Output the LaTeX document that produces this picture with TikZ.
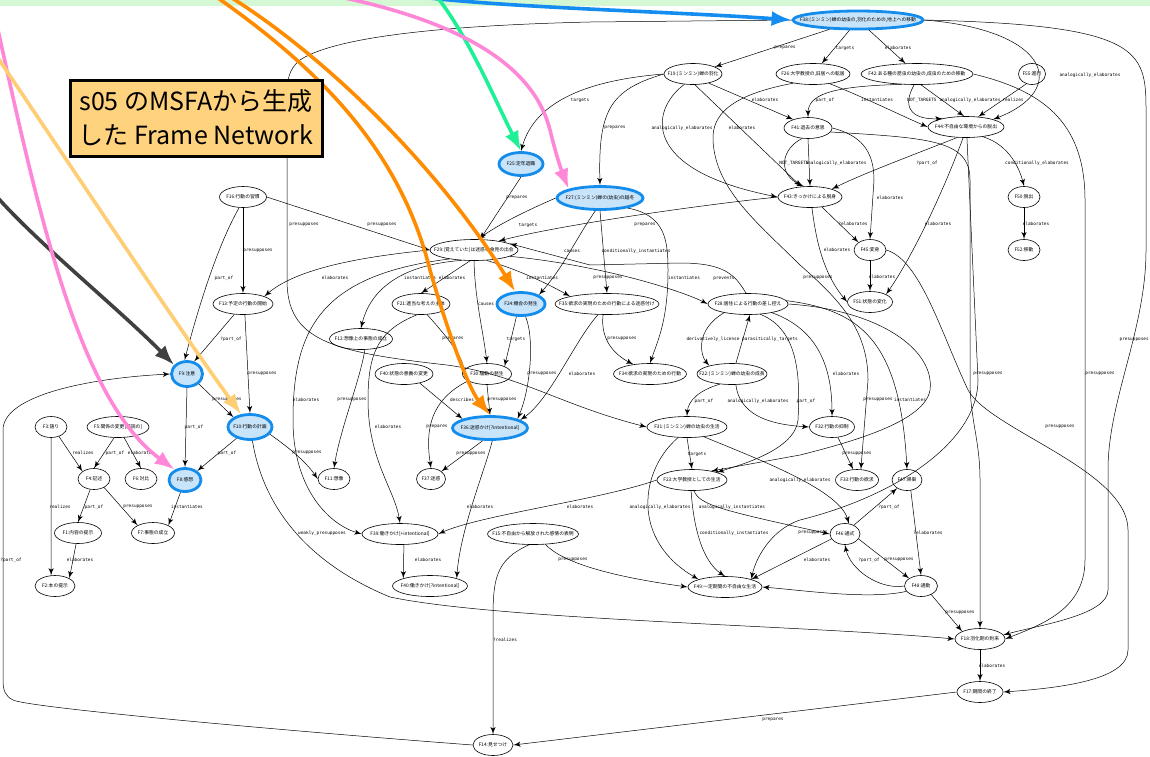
\documentclass[tikz,border=0pt]{standalone}
\usepackage{fontspec}
\setmainfont{Noto Sans CJK JP}
\setmonofont{DejaVu Sans Mono}
\usetikzlibrary{arrows,arrows.meta,shapes.geometric}

\definecolor{hlfill}{RGB}{200,228,250}
\definecolor{hlline}{RGB}{20,140,235}
\definecolor{pblue}{RGB}{20,140,240}
\definecolor{pgreen}{RGB}{30,240,150}
\definecolor{ppink}{RGB}{255,135,215}
\definecolor{porange}{RGB}{255,140,0}
\definecolor{pdark}{RGB}{64,64,64}
\definecolor{pyellow}{RGB}{255,205,115}
\definecolor{band}{RGB}{212,248,212}
\definecolor{ttlfill}{RGB}{255,210,125}

\newcommand\flab[1]{\makebox[0pt]{#1}}

\begin{document}
\begin{tikzpicture}[x=0.5pt,y=-0.5pt,>=latex']
        \tikzset{fnode/.style={draw, ellipse, inner sep=0pt, minimum height=10.5pt, line width=0.3pt, font=\fontsize{2.4}{2.8}\selectfont},
        hl/.style={fnode, fill=hlfill, draw=hlline, line width=1.4pt, minimum height=11.5pt},
        wd/.style={minimum width={#1*0.5pt}},
        rel/.style={draw, ->, line width=0.25pt},
        elbl/.style={font=\fontsize{2.2}{2.6}\ttfamily, inner sep=0pt},
        pointer/.style={line width=1.8pt, -{Latex[length=10pt,width=7.5pt]}},
        ttl/.style={draw, fill=ttlfill, line width=1.5pt, align=center, minimum width=126pt, minimum height=38pt, font=\fontsize{12.5}{17}\selectfont}
        }
        \useasboundingbox (0,0) rectangle (1150,756);
        \fill[band] (0,0) rectangle (1150,6);

        % frames
        \node[hl, wd=130, minimum height=9pt] (f38) at (858,20) {\flab{F38:(ミンミン)蝉の幼虫の,羽化のための,地上への移動}};
        \node[fnode, wd=58] (f19) at (693,74) {\flab{F19:(ミンミン)蝉の羽化}};
        \node[fnode, wd=74] (f26) at (813,74) {\flab{F26:大学教授の,旧居への転居}};
        \node[fnode, wd=112] (f42) at (917,74) {\flab{F42:ある種の昆虫の幼虫の,成虫のための移動}};
        \node[fnode, wd=27] (f55) at (1032,74) {\flab{F55:進行}};
        \node[fnode, wd=48] (f41) at (808,128) {\flab{F41:退去の意思}};
        \node[fnode, wd=76] (f44) at (966,127) {\flab{F44:不自由な環境からの脱出}};
        \node[hl, wd=44] (f25) at (521,164) {\flab{F25:定年退職}};
        \node[hl, wd=86] (f27) at (600,198) {\flab{F27:(ミンミン)蝉の(幼虫)の越冬}};
        \node[fnode, wd=64] (f43) at (810,197) {\flab{F43:きっかけによる脱身}};
        \node[fnode, wd=32] (f50) at (1024,197) {\flab{F50:脱出}};
        \node[fnode, wd=47] (f16) at (243,197) {\flab{F16:行動の習慣}};
        \node[fnode, wd=88] (f29) at (474,250) {\flab{F29:(覚えていた)は迷惑な食見の出会}};
        \node[fnode, wd=32] (f45) at (870,250) {\flab{F45:変身}};
        \node[fnode, wd=32] (f52) at (1024,250) {\flab{F52:移動}};
        \node[fnode, wd=60] (f13) at (243,304) {\flab{F13:予定の行動の開始}};
        \node[fnode, wd=58] (f21) at (421,304) {\flab{F21:適当な考えの主体}};
        \node[hl, wd=48] (f24) at (521,304) {\flab{F24:機会の発生}};
        \node[fnode, wd=104] (f35) at (607,304) {\flab{F35:欲求の実現のための行動による迷惑付け}};
        \node[fnode, wd=80] (f28) at (748,304) {\flab{F28:居住による行動の差し控え}};
        \node[fnode, wd=45] (f51) at (870,302) {\flab{F51:状態の変化}};
        \node[fnode, wd=63] (f12) at (361,339) {\flab{F12:想像上の事態の成立}};
        \node[hl, wd=31, minimum height=12.5pt] (f9) at (187,374) {\flab{F9:注意}};
        \node[fnode, wd=58] (f40) at (404,374) {\flab{F40:状態の意義の変更}};
        \node[fnode, wd=49] (f30) at (487,374) {\flab{F30:騒動の発生}};
        \node[fnode, wd=73] (f34) at (650,374) {\flab{F34:欲求の実現のための行動}};
        \node[fnode, wd=70] (f22) at (732,374) {\flab{F22:(ミンミン)蝉の幼虫の成長}};
        \node[fnode, wd=32] (f3) at (51,427) {\flab{F3:語り}};
        \node[fnode, wd=62] (f5) at (118,427) {\flab{F5:関係の変更[逆説の]}};
        \node[hl, wd=44, minimum height=12.5pt] (f10) at (250,427) {\flab{F10:行動の計画}};
        \node[hl, wd=75] (f36) at (490,428) {\flab{F36:迷惑かけ[?intentional]}};
        \node[fnode, wd=80] (f31) at (687,427) {\flab{F31:(ミンミン)蝉の幼虫の生活}};
        \node[fnode, wd=45] (f32) at (832,427) {\flab{F32:行動の抑制}};
        \node[fnode, wd=32] (f4) at (94,479) {\flab{F4:記述}};
        \node[fnode, wd=32] (f6) at (141,479) {\flab{F6:対比}};
        \node[hl, wd=32] (f8) at (185,480) {\flab{F8:感想}};
        \node[fnode, wd=32] (f11) at (334,479) {\flab{F11:想像}};
        \node[fnode, wd=29] (f37) at (431,479) {\flab{F37:迷惑}};
        \node[fnode, wd=70] (f27b) at (692,480) {\flab{F23:大学教授としての生活}};
        \node[fnode, wd=43] (f33) at (857,480) {\flab{F33:行動の欲求}};
        \node[fnode, wd=30] (f47) at (907,480) {\flab{F47:帰巣}};
        \node[fnode, wd=47] (f1) at (78,533) {\flab{F1:内容の提示}};
        \node[fnode, wd=43] (f7) at (153,533) {\flab{F7:事態の成立}};
        \node[fnode, wd=76] (f39a) at (400,534) {\flab{F39:働きかけ[+intentional]}};
        \node[fnode, wd=91] (f15) at (533,534) {\flab{F15:不自由から解放された感情の表明}};
        \node[fnode, wd=30] (f46) at (845,534) {\flab{F46:通式}};
        \node[fnode, wd=40] (f2) at (55,586) {\flab{F2:本の提示}};
        \node[fnode, wd=75] (f39) at (430,586) {\flab{F40:働きかけ[?intentional]}};
        \node[fnode, wd=74] (f49) at (725,587) {\flab{F49:一定期間の不自由な生活}};
        \node[fnode, wd=33] (f48) at (921,586) {\flab{F48:通勤}};
        \node[fnode, wd=50] (f18) at (980,639) {\flab{F18:羽化期の到来}};
        \node[fnode, wd=46] (f17) at (980,692) {\flab{F17:期間の終了}};
        \node[fnode, wd=40] (f14) at (493,745) {\flab{F14:見せつけ}};

        % relations
        \draw[rel] (f38) -- (f19) node[elbl, at={(785,48)}] {prepares};
        \draw[rel] (f38) -- (f26) node[elbl, at={(845,48)}] {targets};
        \draw[rel] (f38) -- (f42) node[elbl, at={(898,48)}] {elaborates};
        \draw[rel] (f38.east) .. controls (1050,30) and (1070,90) .. (f44.north east) node[elbl, at={(1090,75)}] {analogically\_elaborates};
        \draw[rel] (f38.east) .. controls (1140,25) and (1146,50) .. (1146,110) -- (1146,250) .. controls (1146,330) and (1108,400) .. (1108,470) -- (1108,590) .. controls (1108,615) and (1040,625) .. (f18.10) node[elbl, anchor=east, at={(1149,340)}] {presupposes};
        \draw[rel] (f38.west) -- (590,22) .. controls (420,26) and (330,40) .. (300,60) .. controls (288,70) and (287,80) .. (287,100) -- (287,280) .. controls (287,340) and (330,352) .. (447,365) .. controls (520,375) and (560,405) .. (f31.west) node[elbl, at={(304,225)}] {presupposes};
        \draw[rel] (f19.west) .. controls (590,80) and (535,100) .. (f25.north) node[elbl, at={(580,100)}] {targets};
        \draw[rel] (f19.west) .. controls (610,90) and (598,110) .. (f27.north) node[elbl, at={(615,128)}] {prepares};
        \draw[rel] (f19.230) .. controls (650,110) and (640,170) .. (f43.west) node[elbl, at={(682,128)}] {analogically\_elaborates};
        \draw[rel] (f19.-80) -- (f43.130) node[elbl, at={(742,128)}] {elaborates};
        \draw[rel] (f19.-30) -- (f41.150) node[elbl, at={(765,100)}] {elaborates};
        \draw[rel] (f42.215) .. controls (830,86) and (808,95) .. (f41.north) node[elbl, at={(825,100)}] {part\_of};
        \draw[rel] (f26.-30) .. controls (870,100) and (900,115) .. (f44.west) node[elbl, at={(877,100)}] {instantiates};
        \draw[rel] (f42.255) .. controls (900,110) and (915,120) .. (f44.160) node[elbl, at={(922,100)}] {NOT\_TARGETS};
        \draw[rel] (f42.290) -- (f44.100) node[elbl, at={(970,100)}] {analogically\_elaborates};
        \draw[rel] (f55.240) -- (f44.40) node[elbl, at={(1013,100)}] {realizes};
        \draw[rel] (f42.east) .. controls (1040,90) and (1085,120) .. (1085,200) -- (1085,560) .. controls (1085,610) and (1040,625) .. (f18.east) node[elbl, at={(1100,374)}] {presupposes};
        \draw[rel] (f41.240) .. controls (780,150) and (778,175) .. (f43.120) node[elbl, at={(794,163)}] {NOT\_TARGETS};
        \draw[rel] (f41.-90) -- (f43.90) node[elbl, at={(836,163)}] {analogically\_elaborates};
        \draw[rel] (f44.230) .. controls (900,160) and (860,175) .. (f43.20) node[elbl, at={(927,163)}] {?part\_of};
        \draw[rel] (f44.-30) .. controls (1010,145) and (1020,170) .. (f50.north) node[elbl, at={(1037,163)}] {conditionally\_elaborates};
        \draw[rel] (f50) -- (f52) node[elbl, at={(1036,224)}] {elaborates};
        \draw[rel] (f44.255) .. controls (940,200) and (910,260) .. (f51.north east) node[elbl, at={(938,224)}] {elaborates};
        \draw[rel] (f43.-40) -- (f45.north west) node[elbl, at={(853,224)}] {?elaborates};
        \draw[rel] (f43.-80) .. controls (815,230) and (820,270) .. (f51.west) node[elbl, at={(837,250)}] {elaborates};
        \draw[rel] (f41.east) .. controls (860,135) and (874,150) .. (874,180) -- (f45.north) node[elbl, at={(890,198)}] {elaborates};
        \draw[rel] (f45) -- (f51) node[elbl, at={(882,277)}] {elaborates};
        \draw[rel] (f41.-10) .. controls (930,138) and (970,140) .. (970,180) -- (970,380) .. controls (970,420) and (980,440) .. (980,480) -- (f18.north) node[elbl, at={(988,374)}] {presupposes};
        \draw[rel] (f44.-85) -- (978,380) .. controls (978,440) and (900,495) .. (800,520) .. controls (770,530) and (755,560) .. (f49.north east) node[elbl, at={(813,533)}] {presupposes};
        \draw[rel] (f45.east) .. controls (920,260) and (940,330) .. (968,390) .. controls (990,430) and (1128,470) .. (1128,530) -- (1128,650) .. controls (1128,680) and (1060,688) .. (f17.east) node[elbl, at={(1060,427)}] {presupposes};

        \draw[rel] (f25.south) -- (f29.60) node[elbl, at={(517,198)}] {prepares};
        \draw[rel] (f27.west) .. controls (540,205) and (505,220) .. (f29.70) node[elbl, at={(528,225)}] {targets};
        \draw[rel] (f43.west) .. controls (700,205) and (560,225) .. (f29.20) node[elbl, at={(645,225)}] {prepares};
        \draw[rel] (f16.east) -- (f29.west) node[elbl, at={(382,225)}] {presupposes};
        \draw[rel] (f16.south) -- (f13.north) node[elbl, at={(258,251)}] {presupposes};
        \draw[rel] (f16.250) .. controls (215,250) and (195,320) .. (f9.100) node[elbl, at={(224,278)}] {part\_of};
        \draw[rel] (f13.230) -- (f9.60) node[elbl, at={(231,339)}] {?part\_of};
        \draw[rel] (f13.-80) -- (f10.north) node[elbl, at={(262,374)}] {presupposes};
        \draw[rel] (f29.west) .. controls (380,255) and (300,265) .. (f13.north east) node[elbl, at={(335,278)}] {elaborates};
        \draw[rel] (f29.220) .. controls (400,265) and (370,290) .. (f12.north) node[elbl, at={(420,278)}] {instantiates};
        \draw[rel] (f29.250) -- (f21.north) node[elbl, at={(452,278)}] {elaborates};
        \draw[rel] (f29.-90) .. controls (475,300) and (483,330) .. (f30.north) node[elbl, at={(486,304)}] {causes};
        \draw[rel] (f29.-40) .. controls (520,270) and (550,285) .. (f35.north west) node[elbl, at={(542,278)}] {instantiates};
        \draw[rel] (f27.250) .. controls (575,240) and (565,265) .. (f24.north east) node[elbl, at={(572,251)}] {causes};
        \draw[rel] (f27.-90) -- (f35.north) node[elbl, at={(636,251)}] {conditionally\_instantiates};
        \draw[rel] (f27.-20) .. controls (665,215) and (668,240) .. (668,270) .. controls (668,320) and (658,340) .. (f34.north) node[elbl, at={(684,278)}] {instantiates};
        \draw[rel] (f29.-10) .. controls (600,265) and (680,290) .. (f28.west) node[elbl, at={(608,278)}] {presupposes};
        \draw[rel] (f28.100) .. controls (735,275) and (725,263) .. (680,263) -- (590,265) -- (f29.10) node[elbl, at={(724,278)}] {prevents};
        \draw[rel] (f26.205) .. controls (730,95) and (712,115) .. (713,140) .. controls (715,190) and (760,225) .. (800,265) .. controls (840,300) and (868,330) .. (868,380) -- (f33.70) node[elbl, at={(818,278)}] {presupposes};
        \draw[rel] (f24.250) -- (f30.north east) node[elbl, at={(516,339)}] {targets};
        \draw[rel] (f21.-60) .. controls (450,340) and (465,360) .. (f30.west) node[elbl, at={(453,339)}] {prepares};
        \draw[rel] (f24.-70) .. controls (535,340) and (530,390) .. (f36.north east) node[elbl, at={(542,374)}] {presupposes};
        \draw[rel] (f35.230) .. controls (575,340) and (550,400) .. (f36.15) node[elbl, at={(582,374)}] {elaborates};
        \draw[rel] (f35.250) .. controls (600,340) and (615,355) .. (f34.150) node[elbl, at={(622,339)}] {presupposes};
        \draw[rel] (f28.200) .. controls (695,330) and (700,355) .. (f22.160) node[elbl, at={(713,339)}] {derivatively\_license};
        \draw[rel] (f22.70) -- (f28.-80) node[elbl, at={(770,339)}] {parasitically\_targets};
        \draw[rel] (f12.-70) .. controls (360,380) and (340,430) .. (f11.north) node[elbl, at={(352,400)}] {presupposes};
        \draw[rel] (f40.-30) -- (f36.north west) node[elbl, at={(462,400)}] {describes};
        \draw[rel] (f30.south) -- (f36.north) node[elbl, at={(502,400)}] {presupposes};
        \draw[rel] (f30.200) .. controls (430,400) and (425,430) .. (f37.north) node[elbl, at={(437,427)}] {prepares};
        \draw[rel] (f36.240) -- (f37.north east) node[elbl, at={(471,454)}] {presupposes};
        \draw[rel] (f21.250) .. controls (380,330) and (368,350) .. (368,400) .. controls (368,460) and (395,490) .. (f39a.north) node[elbl, at={(388,427)}] {elaborates};
        \draw[rel] (f29.200) .. controls (320,275) and (293,330) .. (293,420) .. controls (293,490) and (330,525) .. (f39a.west) node[elbl, at={(306,400)}] {elaborates};
        \draw[rel] (f22.220) .. controls (700,390) and (688,400) .. (f31.north) node[elbl, at={(704,401)}] {part\_of};
        \draw[rel] (f22.-70) .. controls (740,420) and (780,425) .. (f32.west) node[elbl, at={(758,401)}] {analogically\_elaborates};
        \draw[rel] (f28.-40) .. controls (800,330) and (800,380) .. (798,420) .. controls (795,450) and (740,465) .. (f27b.north east) node[elbl, at={(806,401)}] {part\_of};
        \draw[rel] (f28.-20) .. controls (820,330) and (832,370) .. (f32.north) node[elbl, at={(846,374)}] {elaborates};
        \draw[rel] (f28.east) .. controls (880,310) and (935,350) .. (930,390) .. controls (925,420) and (860,440) .. (800,455) -- (f27b.25) node[elbl, at={(878,400)}] {presupposes};
        \draw[rel] (f28.5) .. controls (860,310) and (900,340) .. (f47.north) node[elbl, at={(910,400)}] {instantiates};
        \draw[rel] (f32.-60) -- (f33.110) node[elbl, at={(857,454)}] {presupposes};
        \draw[rel] (f31.-90) -- (f27b.north) node[elbl, at={(697,454)}] {targets};
        \draw[rel] (f31.-30) .. controls (760,460) and (840,490) .. (f46.70) node[elbl, at={(800,480)}] {analogically\_elaborates};
        \draw[rel] (f31.230) .. controls (640,470) and (630,540) .. (f49.north west) node[elbl, at={(660,507)}] {analogically\_elaborates};
        \draw[rel] (f27b.-80) .. controls (700,505) and (720,510) .. (f46.west) node[elbl, at={(732,507)}] {analogically\_instantiates};
        \draw[rel] (f27b.-95) .. controls (693,520) and (700,560) .. (f49.north) node[elbl, at={(734,533)}] {conditionally\_instantiates};
        \draw[rel] (f27b.west) .. controls (600,500) and (480,515) .. (f39a.east) node[elbl, at={(580,507)}] {elaborates};
        \draw[rel] (f46.200) -- (f49.north east) node[elbl, at={(817,560)}] {elaborates};
        \draw[rel] (f48.west) .. controls (880,590) and (850,570) .. (f46.south) node[elbl, at={(869,560)}] {?part\_of};
        \draw[rel] (f46.-20) -- (f48.north west) node[elbl, at={(899,560)}] {presupposes};
        \draw[rel] (f47.-70) -- (f48.north) node[elbl, at={(928,533)}] {?elaborates};
        \draw[rel] (f46.45) -- (f47.220) node[elbl, at={(889,507)}] {?part\_of};
        \draw[rel] (f48.200) .. controls (870,600) and (800,590) .. (f49.east);
        \draw[rel] (f48.-40) -- (f18.north west) node[elbl, at={(960,613)}] {presupposes};
        \draw[rel] (f18) -- (f17) node[elbl, at={(992,666)}] {elaborates};
        \draw[rel] (f17.west) -- (f14.east) node[elbl, at={(773,720)}] {prepares};
        \draw[rel] (f15.250) .. controls (495,560) and (493,580) .. (493,620) -- (f14.north) node[elbl, at={(505,640)}] {?realizes};
        \draw[rel] (f15.-40) .. controls (560,560) and (600,575) .. (f49.west) node[elbl, at={(573,560)}] {presupposes};
        \draw[rel] (f10.-80) .. controls (262,500) and (300,560) .. (390,597) .. controls (500,620) and (800,625) .. (f18.west) node[elbl, at={(322,533)}] {weakly\_presupposes};
        \draw[rel] (f39a.-70) -- (f39.north west) node[elbl, at={(428,560)}] {elaborates};
        \draw[rel] (f36.-80) .. controls (485,470) and (460,530) .. (f39.north east) node[elbl, at={(480,507)}] {elaborates};
        \draw[rel] (f9.-40) -- (f10.north west) node[elbl, at={(227,400)}] {presupposes};
        \draw[rel] (f9.south) -- (f8.north) node[elbl, at={(194,427)}] {part\_of};
        \draw[rel] (f10.220) -- (f8.north east) node[elbl, at={(227,453)}] {part\_of};
        \draw[rel] (f10.-20) .. controls (285,445) and (305,460) .. (f11.west) node[elbl, at={(307,453)}] {presupposes};
        \draw[rel] (f3.-50) -- (f4.north west) node[elbl, at={(83,453)}] {realizes};
        \draw[rel] (f5.250) -- (f4.north) node[elbl, at={(115,453)}] {part\_of};
        \draw[rel] (f5.-60) -- (f6.north) node[elbl, at={(141,453)}] {elaborates};
        \draw[rel] (f8.250) -- (f7.north east) node[elbl, at={(187,507)}] {instantiates};
        \draw[rel] (f3.south) -- (f2.110) node[elbl, at={(60,507)}] {realizes};
        \draw[rel] (f4.250) -- (f1.north) node[elbl, at={(94,507)}] {part\_of};
        \draw[rel] (f4.-40) -- (f7.north west) node[elbl, at={(138,507)}] {presupposes};
        \draw[rel] (f1.-100) -- (f2.north east) node[elbl, at={(80,560)}] {elaborates};
        \draw[rel] (f14.west) .. controls (300,732) and (30,708) .. (13,700) .. controls (5,696) and (3,690) .. (3,680) -- (3,430) .. controls (3,395) and (90,378) .. (f9.west) node[elbl, at={(11,560)}] {?part\_of};

        % pointers from the slide
        \coordinate (bluefrom) at (430,-2);
        \coordinate (greenfrom) at (438,-2);
        \coordinate (pinkfrom) at (345,-2);
        \coordinate (orangefromA) at (218,-2);
        \coordinate (orangefromB) at (232,-2);
        \coordinate (darkfrom) at (-2,198);
        \coordinate (pinkfromL) at (-2,30);
        \coordinate (yellowfrom) at (-2,58);
        \draw[pointer, pblue] (bluefrom) .. controls (520,8) and (680,12) .. (f38.west);
        \draw[pointer, pgreen] (greenfrom) .. controls (470,40) and (495,100) .. (f25.north);
        \draw[pointer, ppink] (pinkfrom) .. controls (470,25) and (535,70) .. (550,130) .. controls (556,155) and (562,172) .. (f27.north west);
        \draw[pointer, porange] (orangefromA) .. controls (320,70) and (400,150) .. (430,270) .. controls (450,340) and (470,390) .. (f36.north);
        \draw[pointer, porange] (orangefromB) .. controls (330,60) and (440,170) .. (f24.115);
        \draw[pointer, pdark] (darkfrom) .. controls (40,245) and (120,310) .. (f9.145);
        \draw[pointer, ppink] (pinkfromL) .. controls (40,220) and (80,400) .. (f8.135);
        \draw[pointer, pyellow] (yellowfrom) .. controls (80,180) and (180,330) .. (f10.125);

        \node[ttl] (title) at (196,118) {s05 のMSFAから生成\\した Frame Network};
\end{tikzpicture}
\end{document}
